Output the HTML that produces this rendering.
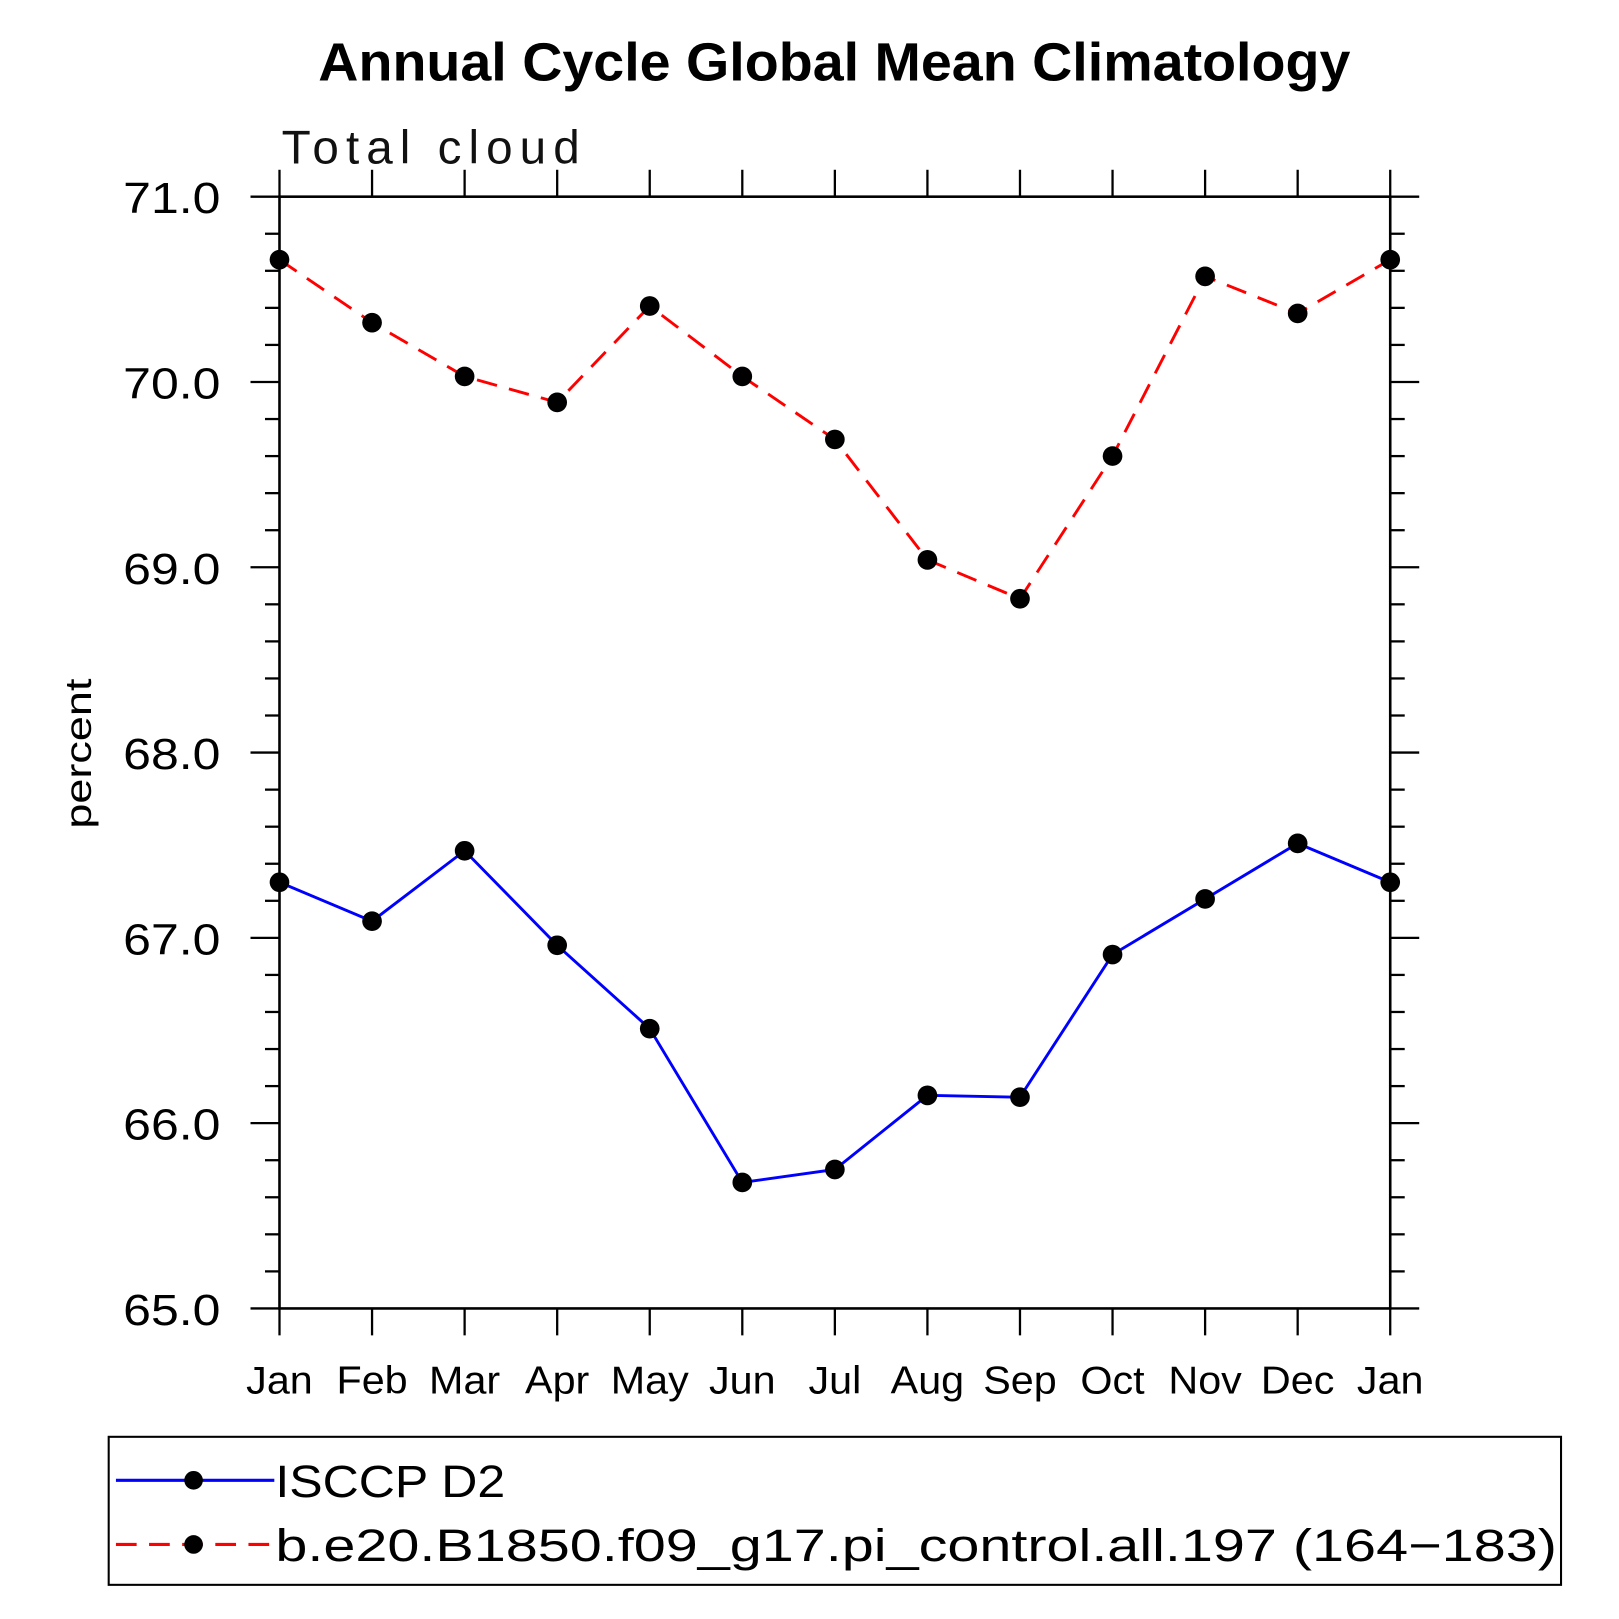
<!DOCTYPE html>
<html><head><meta charset="utf-8"><style>html,body{margin:0;padding:0;background:#fff}svg{display:block}text{font-family:"Liberation Sans",sans-serif}</style></head>
<body>
<svg id="chart" width="1619" height="1619" viewBox="0 0 1564 1564" xmlns="http://www.w3.org/2000/svg">
<rect width="1564" height="1564" fill="#fff"/>
<text x="806" y="78" text-anchor="middle" font-size="52" font-weight="bold" textLength="997" lengthAdjust="spacingAndGlyphs">Annual Cycle Global Mean Climatology</text>
<text x="272" y="158" font-size="46" fill="#111" textLength="288" lengthAdjust="spacing">Total cloud</text>
<text transform="translate(88,728) rotate(-90)" text-anchor="middle" font-size="36" textLength="145" lengthAdjust="spacingAndGlyphs">percent</text>
<g id="axes"></g>
<g id="series"></g>
<g>
<rect x="105" y="1388" width="1403" height="143" fill="none" stroke="#000" stroke-width="2"/>
<line x1="112" y1="1430" x2="265" y2="1430" stroke="#00f" stroke-width="3"/>
<circle cx="187" cy="1430" r="9" fill="#000"/>
<text x="266" y="1446" font-size="44" textLength="222" lengthAdjust="spacingAndGlyphs">ISCCP D2</text>
<line x1="112" y1="1492" x2="265" y2="1492" stroke="#f00" stroke-width="3" stroke-dasharray="20,12"/>
<circle cx="187" cy="1492" r="9" fill="#000"/>
<text x="266" y="1508" font-size="44" textLength="1238" lengthAdjust="spacingAndGlyphs">b.e20.B1850.f09_g17.pi_control.all.197 (164−183)</text>
</g>
</svg>
<script>
const months = ["Jan","Feb","Mar","Apr","May","Jun","Jul","Aug","Sep","Oct","Nov","Dec","Jan"];
const isccp = [67.30,67.09,67.47,66.96,66.51,65.68,65.75,66.15,66.14,66.91,67.21,67.51,67.30];
const model = [70.66,70.32,70.03,69.89,70.41,70.03,69.69,69.04,68.83,69.60,70.57,70.37,70.66];
const yTicks = [65.0,66.0,67.0,68.0,69.0,70.0,71.0];
const yTickLabels = ["65.0","66.0","67.0","68.0","69.0","70.0","71.0"];
const yMin = 65, yMax = 71;
const L = 270, R = 1343, T = 190, B = 1264;
const NS = "http://www.w3.org/2000/svg";
function xs(i){ return L + (R - L) * i / (months.length - 1); }
function ys(v){ return B - (v - yMin) / (yMax - yMin) * (B - T); }
function mk(tag, attrs, parent){ const e = document.createElementNS(NS, tag); for (const k in attrs) e.setAttribute(k, attrs[k]); parent.appendChild(e); return e; }
function stretch(t, f){ const w = t.getComputedTextLength(); t.setAttribute('textLength', w * f); t.setAttribute('lengthAdjust', 'spacingAndGlyphs'); }
const axes = document.getElementById('axes');
const frame = mk('rect', {x:L, y:T, width:R-L, height:B-T, fill:'none', stroke:'#000', 'stroke-width':2.5}, axes);


for (let v = yMin; v <= yMax + 1e-9; v += 0.2) {
  const y = ys(v);
  const major = Math.abs(v - Math.round(v)) < 1e-6;
  const len = major ? 28 : 14;
  mk('line', {x1:L-len, y1:y, x2:L, y2:y, stroke:'#000', 'stroke-width':2.2}, axes);
  mk('line', {x1:R, y1:y, x2:R+len, y2:y, stroke:'#000', 'stroke-width':2.2}, axes);
}
yTicks.forEach((v, i) => {
  const t = mk('text', {x:213, y:ys(v)+16, 'text-anchor':'end', 'font-size':42}, axes);
  t.textContent = yTickLabels[i];
  
  
  stretch(t, 1.15);
});
months.forEach((m, i) => {
  const x = xs(i);
  mk('line', {x1:x, y1:B, x2:x, y2:B+26, stroke:'#000', 'stroke-width':2.2}, axes);
  mk('line', {x1:x, y1:T-26, x2:x, y2:T, stroke:'#000', 'stroke-width':2.2}, axes);
  const t = mk('text', {x:x, y:1346, 'text-anchor':'middle', 'font-size':38}, axes);
  t.textContent = m;
  
  
  stretch(t, 1.05);
});
const series = document.getElementById('series');
function drawSeries(vals, color, dash, name){
  const pl = mk('polyline', {points: vals.map((v,i)=>xs(i)+','+ys(v)).join(' '), fill:'none', stroke:color, 'stroke-width':2.8, 'stroke-dasharray':dash}, series);
  
  
  vals.forEach((v,i)=>{
    const c = mk('circle', {cx:xs(i), cy:ys(v), r:9.5, fill:'#000'}, series);
    
    
  });
}
drawSeries(isccp, '#00f', 'none', 'isccp');
drawSeries(model, '#f00', '20,12', 'model');
</script>
</body></html>
